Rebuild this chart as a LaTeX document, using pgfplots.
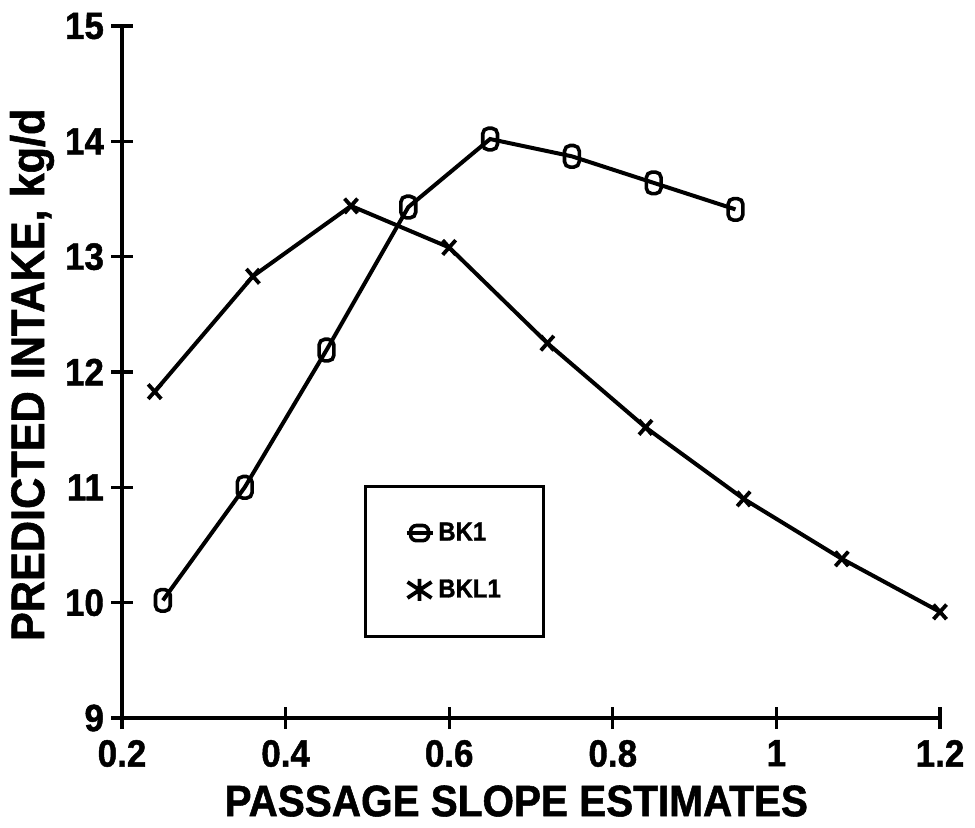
\documentclass[border=0pt]{standalone}
\usepackage{fontspec}
\setmainfont{Liberation Sans}[FakeStretch=0.92, BoldFeatures={FakeBold=1.2}]
\usepackage{pgfplots}
\pgfplotsset{compat=1.18}

% tall rounded box used for the BK1 points (half width 3.7pt, half height 5.4pt, radius 2.8pt)
\pgfdeclareplotmark{rrect}{%
  \pgfpathmoveto{\pgfpoint{0pt}{-5.4pt}}%
  \pgfpathlineto{\pgfpoint{0.9pt}{-5.4pt}}%
  \pgfpathcurveto{\pgfpoint{2.44pt}{-5.4pt}}{\pgfpoint{3.7pt}{-4.14pt}}{\pgfpoint{3.7pt}{-2.6pt}}%
  \pgfpathlineto{\pgfpoint{3.7pt}{2.6pt}}%
  \pgfpathcurveto{\pgfpoint{3.7pt}{4.14pt}}{\pgfpoint{2.44pt}{5.4pt}}{\pgfpoint{0.9pt}{5.4pt}}%
  \pgfpathlineto{\pgfpoint{-0.9pt}{5.4pt}}%
  \pgfpathcurveto{\pgfpoint{-2.44pt}{5.4pt}}{\pgfpoint{-3.7pt}{4.14pt}}{\pgfpoint{-3.7pt}{2.6pt}}%
  \pgfpathlineto{\pgfpoint{-3.7pt}{-2.6pt}}%
  \pgfpathcurveto{\pgfpoint{-3.7pt}{-4.14pt}}{\pgfpoint{-2.44pt}{-5.4pt}}{\pgfpoint{-0.9pt}{-5.4pt}}%
  \pgfpathclose
  \pgfusepathqstroke}

\begin{document}
\begin{tikzpicture}
\begin{axis}[
  name=ax,
  scale only axis, width=409pt, height=346pt,
  xmin=0.2, xmax=1.2, ymin=9, ymax=15,
  axis x line=bottom, axis y line=left,
  axis line style={-, line width=1.8pt, black},
  xtick={0.2,0.4,0.6,0.8,1,1.2},
  xticklabels={0.2,0.4,0.6,0.8,1,1.2},
  ytick={9,10,11,12,13,14,15},
  yticklabels={9,10,11,12,13,14,15},
  tick align=center, major tick length=11pt,
  tick style={line width=1.6pt, black},
  /pgf/number format/assume math mode=true,
  ticklabel style={font=\fontsize{19}{22}\selectfont\bfseries},
  xticklabel style={yshift=-2pt},
  xlabel={PASSAGE SLOPE ESTIMATES},
  ylabel={PREDICTED INTAKE, kg/d},
  xlabel style={font=\fontsize{22}{24}\selectfont\bfseries,
    at={(axis description cs:0.482,-0.120)}, anchor=center},
  ylabel style={font=\fontsize{23.5}{25}\selectfont\bfseries,
    at={(axis description cs:-0.110,0.496)}, anchor=center},
  legend style={at={(axis cs:0.496,11.02)}, anchor=north west,
    draw=black, line width=1.6pt, fill=white,
    font=\fontsize{13}{15}\selectfont\bfseries,
    inner xsep=19.5pt, inner ysep=16pt, row sep=14pt,
    column sep=0pt, cells={anchor=west}},
]
\addplot[black, line width=2pt, mark=rrect,
  mark options={line width=1.8pt},
  legend image code/.code={%
    \draw[line width=1.8pt] (-6.5pt,0) -- (6.5pt,0);
    \draw[line width=1.8pt, rounded corners=3pt] (-4.5pt,-3.8pt) rectangle (4.5pt,3.8pt);}]
  coordinates {
  (0.25,10.02) (0.35,11.00) (0.45,12.19) (0.55,13.43)
  (0.65,14.02) (0.75,13.87) (0.85,13.64) (0.95,13.41)};
\addlegendentry{BK1}
\addplot[black, line width=2pt, mark=x, mark size=4.6pt,
  mark options={line width=1.9pt, yscale=1.12},
  legend image code/.code={%
    \draw[line width=1.9pt] (0,-5.5pt) -- (0,5.5pt)
      (-6pt,-4pt) -- (6pt,4pt) (-6pt,4pt) -- (6pt,-4pt);}]
  coordinates {
  (0.24,11.83) (0.36,12.83) (0.48,13.44) (0.60,13.08) (0.72,12.25)
  (0.84,11.52) (0.96,10.90) (1.08,10.38) (1.20,9.92)};
\addlegendentry{BKL1}
\end{axis}
\pgfresetboundingbox
\path (ax.south west) ++(-61pt,-54.5pt) rectangle ++(487.5pt,413.5pt);
\end{tikzpicture}
\end{document}
